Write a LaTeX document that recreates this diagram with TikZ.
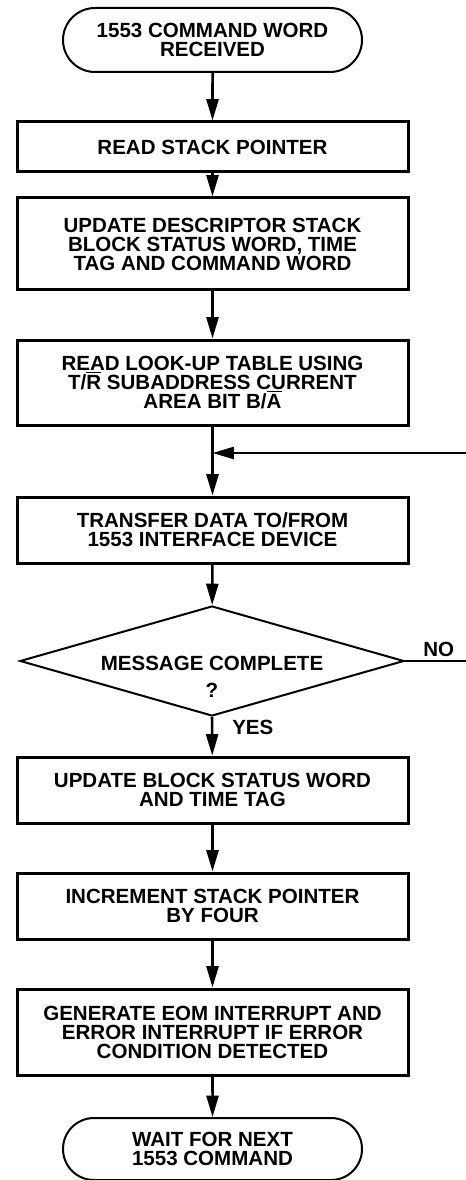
\documentclass[tikz,border=0pt]{standalone}
\usepackage{fontspec}
\setmainfont{Liberation Sans}
\usetikzlibrary{arrows.meta,shapes.geometric,shapes.misc}
\newcommand{\obar}[1]{\setbox0\hbox{#1}\rlap{\rule[\dimexpr\ht0+1.6pt\relax]{\wd0}{1.1pt}}#1}
\begin{document}
\begin{tikzpicture}[x=0.75pt,y=-0.75pt,
  txt/.style={font=\bfseries\fontsize{15.4}{14.2}\selectfont,align=center},
  box/.style={txt,draw,line width=2.25pt,minimum width=391*0.75pt,inner sep=0pt},
  term/.style={txt,draw,rounded rectangle,line width=1.5pt,minimum width=299*0.75pt,minimum height=64*0.75pt,inner sep=0pt},
  decision/.style={draw,diamond,line width=1.5pt,minimum width=384*0.75pt,minimum height=110*0.75pt,aspect=3.49,inner sep=0pt},
  arr/.style={line width=1.9pt,-{Triangle[length=16pt,width=9pt]}},
  line/.style={line width=2.1pt}]
\useasboundingbox (0,0) rectangle (466,1180);
\node[term] (start) at (212.5,40) {1553 COMMAND WORD\\RECEIVED};
\node[box,minimum height=50*0.75pt] (rsp) at (212.5,147) {READ STACK POINTER};
\node[box,minimum height=92*0.75pt] (desc) at (212.5,244) {UPDATE DESCRIPTOR STACK\\BLOCK STATUS WORD, TIME\\TAG AND COMMAND WORD};
\node[box,minimum height=85*0.75pt] (look) at (212.5,382.5) {READ LOOK-UP TABLE USING\\T/\obar{R} SUBADDRESS CURRENT\\AREA BIT B/\obar{A}};
\node[box,minimum height=66*0.75pt] (trans) at (212.5,530) {TRANSFER DATA TO/FROM\\1553 INTERFACE DEVICE};
\node[decision] (dec) at (212,661) {};
\node[txt] (dectxt) at (212,677) {MESSAGE COMPLETE\\[6pt]?};
\node[box,minimum height=66*0.75pt] (ubs) at (212.5,790) {UPDATE BLOCK STATUS WORD\\AND TIME TAG};
\node[box,minimum height=66*0.75pt] (inc) at (212.5,906) {INCREMENT STACK POINTER\\BY FOUR};
\node[box,minimum height=86*0.75pt] (gen) at (212.5,1032) {GENERATE EOM INTERRUPT AND\\ERROR INTERRUPT IF ERROR\\CONDITION DETECTED};
\node[term,minimum height=62*0.75pt] (stop) at (212.5,1149) {WAIT FOR NEXT\\1553 COMMAND};
\coordinate (join) at (212.5,453);
\coordinate (fbin) at (466,453);
\coordinate (noend) at (466,661);
\draw[arr] (start) -- (rsp);
\draw[arr] (rsp) -- (desc);
\draw[arr] (desc) -- (look);
\draw[line] (look) -- (join);
\draw[arr] (join) -- (trans);
\draw[arr] (fbin) -- (join);
\draw[arr] (trans) -- (dec);
\draw[line] (dec.east) -- (dec.east -| noend);
\draw[arr] (dec.south) -- (ubs);
\draw[arr] (ubs) -- (inc);
\draw[arr] (inc) -- (gen);
\draw[arr] (gen) -- (stop);
\node[txt,anchor=south west,inner sep=0pt] (no) at (423,657) {NO};
\node[txt,anchor=north west,inner sep=0pt] (yes) at (232,720) {YES};
\end{tikzpicture}
\end{document}
